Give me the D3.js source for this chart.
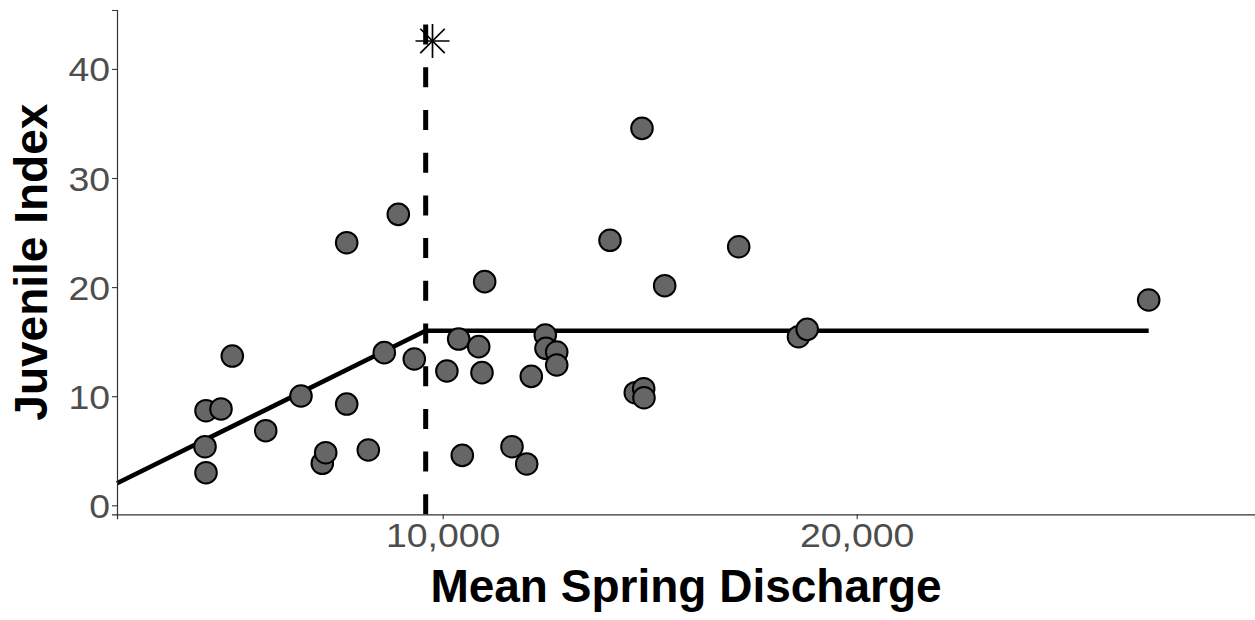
<!DOCTYPE html>
<html>
<head>
<meta charset="utf-8">
<script src="https://cdn.jsdelivr.net/npm/d3@7"></script>
<style>
  html, body { margin: 0; padding: 0; background: #fff; }
  svg { display: block; }
</style>
</head>
<body>
<svg id="chart" width="1255" height="620"></svg>
<script>
// ---- data ----
const discharge = [4283, 4645, 4918, 4259, 4283, 5725, 6577, 7092, 7174, 7681,
  7681, 8203, 8589, 8928, 9314, 10101, 10386, 10473, 10870, 10949,
  11014, 11674, 12029, 12140, 12478, 12495, 12754, 12754, 14041, 14814,
  14652, 14855, 14862, 15362, 17150, 18594, 18804, 27053];
const juvenile = [8.67, 8.83, 13.68, 5.37, 2.99, 6.84, 10.02, 3.85, 4.82, 24.07,
  9.28, 5.07, 13.99, 26.67, 13.41, 12.31, 15.24, 4.58, 14.54, 12.16,
  20.5, 5.37, 3.79, 11.82, 15.61, 14.39, 14.05, 12.86, 24.29, 34.55,
  10.32, 10.69, 9.86, 20.13, 23.7, 15.45, 16.13, 18.82];
const fitX = [2133, 9589, 27053];
const fitY = [2.02, 16.0, 16.0];
const breakpoint = 9589;
const starX = [9754];
const starY = [42.56];
const xTicks = [10000, 20000];
const yTicks = [0, 10, 20, 30, 40];
const xDomain = [2133, 29621];
const yDomain = [-0.825, 45.4];

(function () {
// ---- layout ----
const svg = d3.select("#chart");
const pL = 117, pR = 1255, pT = 10, pB = 514.3;
const x = d3.scaleLinear().domain(xDomain).range([pL, pR]);
const y = d3.scaleLinear().domain(yDomain).range([pB, pT]);

svg.append("rect").attr("width", 1255).attr("height", 620).attr("fill", "#fff");

// fitted segmented line
const fit = fitX.map((v, i) => [v, fitY[i]]);
svg.append("path")
  .datum(fit)
  .attr("d", d3.line().x(d => x(d[0])).y(d => y(d[1])))
  .attr("fill", "none").attr("stroke", "#000").attr("stroke-width", 4.6)
  .attr("stroke-linejoin", "round");

// breakpoint vertical dashed line (drawn from bottom up)
svg.append("line")
  .attr("x1", x(breakpoint)).attr("x2", x(breakpoint))
  .attr("y1", pB).attr("y2", pT)
  .attr("stroke", "#000").attr("stroke-width", 5)
  .attr("stroke-dasharray", "20,22.7");

// points
const pts = discharge.map((v, i) => [v, juvenile[i]]);
svg.append("g").selectAll("circle").data(pts).join("circle")
  .attr("cx", d => x(d[0])).attr("cy", d => y(d[1]))
  .attr("r", 10.8)
  .attr("fill", "#666666").attr("stroke", "#000").attr("stroke-width", 2);

// star (asterisk shape)
const starG = svg.append("g");
starX.forEach((sx, i) => {
  const cx = x(sx), cy = y(starY[i]), s = 17, d = s * 0.72;
  const segs = [[-s, 0, s, 0], [0, -s, 0, s], [-d, -d, d, d], [-d, d, d, -d]];
  segs.forEach(g => starG.append("line")
    .attr("x1", cx + g[0]).attr("y1", cy + g[1])
    .attr("x2", cx + g[2]).attr("y2", cy + g[3])
    .attr("stroke", "#000").attr("stroke-width", 1.7));
});

// axes
const fmt = d3.format(",");
const xAxis = svg.append("g").attr("transform", `translate(0,${pB})`)
  .call(d3.axisBottom(x).tickValues(xTicks).tickFormat(fmt).tickSizeOuter(0).tickSize(5).tickPadding(4));
const yAxis = svg.append("g").attr("transform", `translate(${pL},0)`)
  .call(d3.axisLeft(y).tickValues(yTicks).tickSizeOuter(0).tickSize(5).tickPadding(4));

[xAxis, yAxis].forEach(a => {
  a.select(".domain").attr("stroke", "#333").attr("stroke-width", 1.2);
  a.selectAll(".tick line").attr("stroke", "#333").attr("stroke-width", 1.1);
  a.selectAll(".tick text")
    .attr("fill", "#4D4D4D")
    .style("font-family", "'Liberation Sans', Arial, sans-serif")
    .style("font-size", "34px");
});
xAxis.selectAll(".tick text").attr("dy", null).attr("y", 33);
yAxis.selectAll(".tick text").attr("dy", null).attr("y", 12).attr("x", -7);

// widen tick labels slightly to match reference glyph widths
svg.selectAll(".tick text").each(function () {
  const w = this.getComputedTextLength();
  d3.select(this).attr("textLength", w * 1.1).attr("lengthAdjust", "spacingAndGlyphs");
});

// axis titles
svg.append("text")
  .attr("x", (pL + pR) / 2).attr("y", 602)
  .attr("text-anchor", "middle")
  .style("font-family", "'Liberation Sans', Arial, sans-serif")
  .style("font-weight", "bold").style("font-size", "46px")
  .attr("fill", "#000")
  .text("Mean Spring Discharge");

svg.append("text")
  .attr("transform", `translate(47,${(pT + pB) / 2}) rotate(-90)`)
  .attr("text-anchor", "middle")
  .style("font-family", "'Liberation Sans', Arial, sans-serif")
  .style("font-weight", "bold").style("font-size", "46px")
  .attr("fill", "#000")
  .text("Juvenile Index");
})();
</script>
</body>
</html>
